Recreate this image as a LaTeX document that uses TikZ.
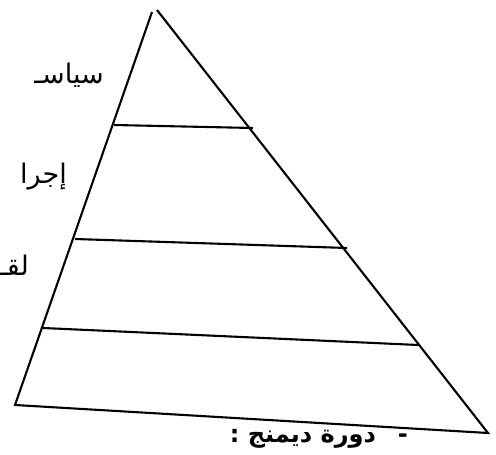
\documentclass[tikz,border=0pt]{standalone}
\usepackage{fontspec}
\TeXXeTstate=1
\newfontfamily\arabicfont[Script=Arabic]{DejaVu Sans}
\begin{document}
\begin{tikzpicture}[x=1pt,y=1pt,
  edge/.style={line width=2.1pt,line join=miter},
  hand/.style={font=\arabicfont\fontsize{27}{30}\selectfont,inner sep=0pt,anchor=east},
  caption/.style={font=\arabicfont\bfseries\fontsize{24}{27}\selectfont,inner sep=0pt}]
\useasboundingbox (0,0) rectangle (496,455);
\fill[white] (0,0) rectangle (496,455);
\begin{scope}
\clip (0,0) rectangle (496,455);
% corners
\coordinate (apexL) at (152,443);
\coordinate (apexR) at (157,445);
\coordinate (bl) at (15,50);
\coordinate (br) at (488,22);
% layer lines
\coordinate (l1a) at (114,330);
\coordinate (l1b) at (253,327);
\coordinate (l2a) at (75,216);
\coordinate (l2b) at (347,207);
\coordinate (l3a) at (43,127);
\coordinate (l3b) at (418,110);
\draw[edge] (apexL) -- (bl) -- (br) -- (apexR);
\draw[edge] (l1a) -- (l1b);
\draw[edge] (l2a) -- (l2b);
\draw[edge] (l3a) -- (l3b);
% cut-off labels at the left
\node[hand] (t1) at (104,380) {\beginR سياسـ\endR};
\node[hand] (t2) at (67,278) {\beginR إجرا\endR};
\node[hand] (t3) at (29,190) {\beginR لقـ\endR};
\node[caption,anchor=east] (cap) at (408,16) {\beginR -\hspace{22pt}دورة ديمنج :\endR};
\end{scope}
\end{tikzpicture}
\end{document}
